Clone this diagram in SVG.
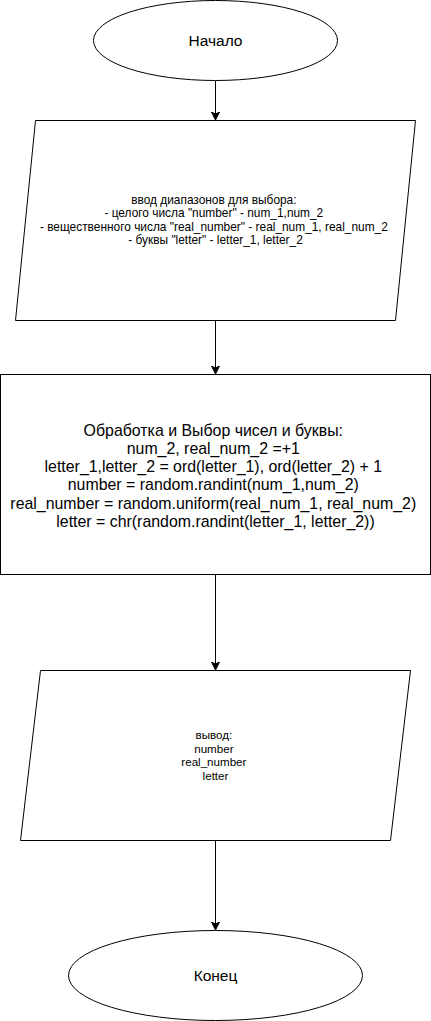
<svg xmlns="http://www.w3.org/2000/svg" width="431" height="1021" viewBox="0 0 431 1021">
<defs>
<style>
.shape{fill:#fff;stroke:#000;stroke-width:1}
.t{font-family:"Liberation Sans",Arial,sans-serif;fill:#000;text-anchor:middle}
.edge{stroke:#000;stroke-width:1;fill:none}
</style>
<marker id="arr" markerWidth="10" markerHeight="10" refX="7" refY="4" orient="auto" markerUnits="userSpaceOnUse">
<path d="M0,0 L8,4 L0,8 L2,4 Z" fill="#000" stroke="#000" stroke-width="1"/>
</marker>
</defs>
<rect width="431" height="1021" fill="#fff"/>
<g id="connectors">
<line class="edge" x1="215.5" y1="81" x2="215.5" y2="119" marker-end="url(#arr)"/>
<line class="edge" x1="215.5" y1="320" x2="215.5" y2="373" marker-end="url(#arr)"/>
<line class="edge" x1="215.5" y1="575" x2="215.5" y2="669" marker-end="url(#arr)"/>
<line class="edge" x1="215.5" y1="840" x2="215.5" y2="929" marker-end="url(#arr)"/>
</g>
<g id="start">
<ellipse class="shape" cx="215.5" cy="40.5" rx="122" ry="40"/>
<text class="t" x="215.5" y="46" font-size="15.5">Начало</text>
</g>
<g id="input">
<polygon class="shape" points="35.5,120.5 415.5,120.5 395.5,320.5 15.5,320.5"/>
<text class="t" font-size="11.9">
<tspan x="215.5" y="204">ввод диапазонов для выбора:</tspan>
<tspan x="215.5" y="217.3">- целого числа "number" - num_1,num_2</tspan>
<tspan x="215.5" y="230.6">- вещественного числа "real_number" - real_num_1, real_num_2</tspan>
<tspan x="215.5" y="244">- буквы "letter" - letter_1, letter_2</tspan>
</text>
</g>
<g id="process">
<rect class="shape" x="0.5" y="374.5" width="430" height="200"/>
<text class="t" font-size="15.9">
<tspan x="215.5" y="435.5">Обработка и Выбор чисел и буквы:</tspan>
<tspan x="215.5" y="453.8">num_2, real_num_2 =+1</tspan>
<tspan x="215.5" y="472.1">letter_1,letter_2 = ord(letter_1), ord(letter_2) + 1</tspan>
<tspan x="215.5" y="490.4">number = random.randint(num_1,num_2)</tspan>
<tspan x="215.5" y="508.7">real_number = random.uniform(real_num_1, real_num_2)</tspan>
<tspan x="215.5" y="527">letter = chr(random.randint(letter_1, letter_2))</tspan>
</text>
</g>
<g id="output">
<polygon class="shape" points="40.5,670.5 410.5,670.5 390.5,840.5 20.5,840.5"/>
<text class="t" font-size="11.6">
<tspan x="215.5" y="739">вывод:</tspan>
<tspan x="215.5" y="752.7">number</tspan>
<tspan x="215.5" y="766.4">real_number</tspan>
<tspan x="215.5" y="780">letter</tspan>
</text>
</g>
<g id="end">
<ellipse class="shape" cx="215.5" cy="975.5" rx="147" ry="45"/>
<text class="t" x="215.5" y="981" font-size="15.5">Конец</text>
</g>
</svg>
